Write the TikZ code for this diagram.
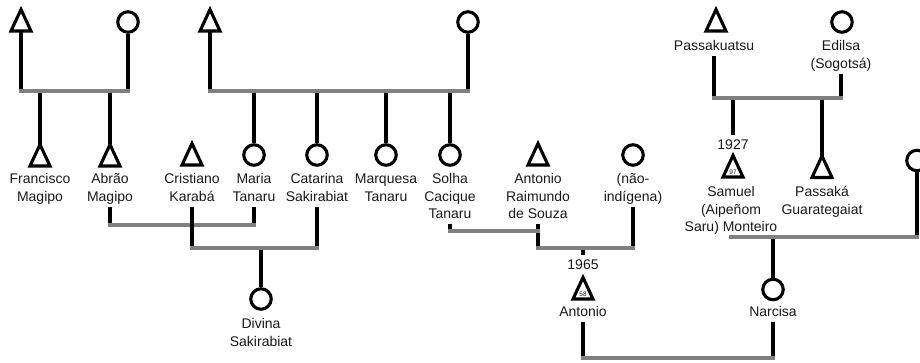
\documentclass[tikz,border=0pt]{standalone}
\usepackage{fontspec}
\setmainfont{Liberation Sans}
\definecolor{lg}{RGB}{128,128,128}
\definecolor{ink}{RGB}{25,25,25}
\tikzset{
 blk/.style={line width=3.1pt, draw=black},
 gry/.style={line width=3.1pt, draw=lg, line cap=rect},
 fem/.style={circle, draw=black, line width=3.1pt, fill=white, minimum size=20.5pt, inner sep=0pt},
 lab/.style={font=\fontsize{14}{17.5}\selectfont, text=ink, align=center, inner sep=0pt, anchor=north},
 yr/.style={font=\fontsize{14}{17.5}\selectfont, text=ink, inner xsep=0pt, inner ysep=4.5pt, anchor=base},
 num/.style={font=\fontsize{6.5}{6.5}\selectfont, text=ink, inner sep=0pt},
 male/.pic={\draw[line width=3.1pt, fill=white] (0,-10.5) -- (10,11) -- (-10,11) -- cycle;
            \coordinate (-top) at (0,-10.5); \coordinate (-bot) at (0,11);},
}
\begin{document}
\begin{tikzpicture}[x=1pt,y=-1pt]
\useasboundingbox (0,0) rectangle (920,362);
% junction levels
\coordinate (h1) at (0,91);
\coordinate (h2) at (0,98);
\coordinate (h3) at (0,225);
\coordinate (h4) at (0,231);
\coordinate (h5) at (0,248);
\coordinate (h6) at (0,237);
\coordinate (h7) at (0,358);

% generation 1
\pic (m1) at (21,20) {male};
\node[fem] (f1) at (128,22) {};
\pic (m2) at (210,20) {male};
\node[fem] (f2) at (468,22) {};
\pic (m3) at (716,20) {male};
\node[fem] (f3) at (842,22) {};
\node[lab] (l-pk) at (714,38.2) {\strut Passakuatsu};
\node[lab] (l-ed) at (841,38.2) {\strut Edilsa\\\strut (Sogotsá)};

% generation 2
\pic (fr) at (40,155) {male};
\pic (ab) at (110,155) {male};
\pic (cr) at (192,154) {male};
\node[fem] (ma) at (254,155) {};
\node[fem] (ca) at (317,155) {};
\node[fem] (mq) at (386,155) {};
\node[fem] (so) at (450,155) {};
\pic (ar) at (538,154) {male};
\node[fem] (na) at (633,155) {};

\node[lab] (l-fr) at (40,171.2) {\strut Francisco\\\strut Magipo};
\node[lab] (l-ab) at (110,171.2) {\strut Abrão\\\strut Magipo};
\node[lab] (l-cr) at (192,171.2) {\strut Cristiano\\\strut Karabá};
\node[lab] (l-ma) at (254,171.2) {\strut Maria\\\strut Tanaru};
\node[lab] (l-ca) at (317,171.2) {\strut Catarina\\\strut Sakirabiat};
\node[lab] (l-mq) at (386,171.2) {\strut Marquesa\\\strut Tanaru};
\node[lab] (l-so) at (450,171.2) {\strut Solha\\\strut Cacique\\\strut Tanaru};
\node[lab] (l-ar) at (538,171.2) {\strut Antonio\\\strut Raimundo\\\strut de Souza};
\node[lab] (l-na) at (633,171.2) {\strut (não-\\\strut indígena)};

\node[yr] (y27) at (733,149.6) {1927};
\pic (sa) at (733,166) {male};
\node[num] (n97) at (733,172) {97};
\node[lab] (l-sa) at (731,184.2) {\strut Samuel\\\strut (Aipeñom\\\strut Saru) Monteiro};
\pic (pa) at (822,166.5) {male};
\node[lab] (l-pa) at (822,184.2) {\strut Passaká\\\strut Guarategaiat};
\node[fem] (rc) at (917,160.5) {};

% generation 3
\node[fem] (dv) at (261,299) {};
\node[lab] (l-dv) at (261,316.2) {\strut Divina\\\strut Sakirabiat};
\node[yr] (y65) at (583,269.6) {1965};
\pic (an) at (583,288) {male};
\node[num] (n58) at (583,294) {58};
\node[lab] (l-an) at (583,304.2) {\strut Antonio};
\node[fem] (nc) at (773,289.5) {};
\node[lab] (l-nc) at (773,304.2) {\strut Narcisa};

% family 1
\draw[blk] (m1-bot) -- (m1-bot |- h1);
\draw[blk] (f1.south) -- (f1.south |- h1);
\draw[blk] (fr-top |- h1) -- (fr-top);
\draw[blk] (ab-top |- h1) -- (ab-top);
\draw[gry] (m1-bot |- h1) -- (f1.south |- h1);

% family 2
\draw[blk] (m2-bot) -- (m2-bot |- h1);
\draw[blk] (f2.south) -- (f2.south |- h1);
\draw[blk] (ma.north |- h1) -- (ma.north);
\draw[blk] (ca.north |- h1) -- (ca.north);
\draw[blk] (mq.north |- h1) -- (mq.north);
\draw[blk] (so.north |- h1) -- (so.north);
\draw[gry] (m2-bot |- h1) -- (f2.south |- h1);

% family 3
\draw[blk] (l-pk.south) -- (l-pk.south |- h2);
\draw[blk] (l-ed.south) -- (l-ed.south |- h2);
\draw[blk] (y27.north |- h2) -- (y27.north);
\draw[blk] (pa-top |- h2) -- (pa-top);
\draw[gry] (l-pk.south |- h2) -- (l-ed.south |- h2);

% Abrao + Maria
\draw[blk] (l-ab.south) -- (l-ab.south |- h3);
\draw[blk] (l-ma.south) -- (l-ma.south |- h3);
\draw[gry] (l-ab.south |- h3) -- (l-ma.south |- h3);

% Cristiano + Catarina
\draw[blk] (l-cr.south) -- (l-cr.south |- h5);
\draw[blk] (l-ca.south) -- (l-ca.south |- h5);
\draw[blk] (dv.north |- h5) -- (dv.north);
\draw[gry] (l-cr.south |- h5) -- (l-ca.south |- h5);

% Solha + Antonio Raimundo + (nao-indigena)
\draw[blk] (l-so.south) -- (l-so.south |- h4);
\draw[blk] (l-ar.south) -- (l-ar.south |- h5);
\draw[blk] (l-na.south) -- (l-na.south |- h5);
\draw[gry] (l-so.south |- h4) -- (l-ar.south |- h4);
\draw[blk] (y65.north |- h5) -- (y65.north);
\draw[gry] (l-ar.south |- h5) -- (l-na.south |- h5);

% Samuel + right partner
\draw[blk] (rc.south) -- (rc.south |- h6);
\draw[blk] (nc.north |- h6) -- (nc.north);
\draw[gry] (l-sa.south |- h6) -- (rc.south |- h6);

% Antonio + Narcisa
\draw[blk] (l-an.south) -- (l-an.south |- h7);
\draw[blk] (l-nc.south) -- (l-nc.south |- h7);
\draw[gry] (l-an.south |- h7) -- (l-nc.south |- h7);
\end{tikzpicture}
\end{document}
